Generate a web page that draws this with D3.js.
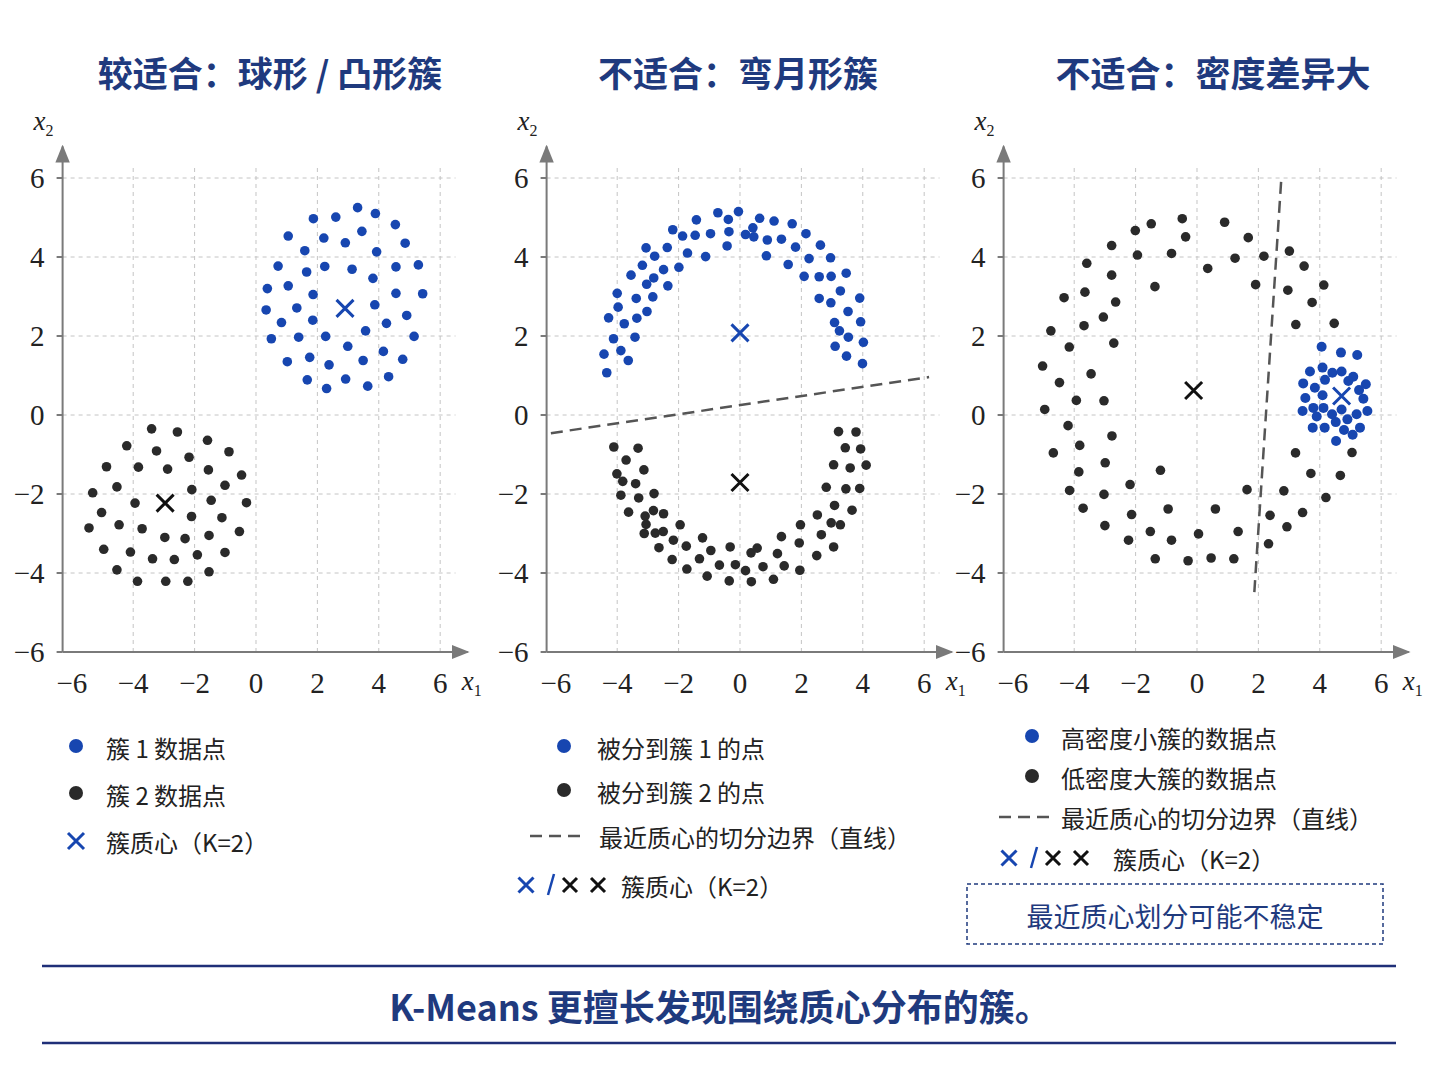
<!DOCTYPE html>
<html>
<head>
<meta charset="utf-8">
<script src="https://cdn.jsdelivr.net/npm/d3@7"></script>
<style>
  body { margin: 0; background: #fff; }
  svg { display: block; }
</style>
</head>
<body>
<svg width="1448" height="1086"></svg>
<script>
// ---- data ----
const titles = ["较适合：球形 / 凸形簇", "不适合：弯月形簇", "不适合：密度差异大"];
const xTicks = [-6, -4, -2, 0, 2, 4, 6];
const yTicks = [6, 4, 2, 0, -2, -4, -6];

// panel 1
const p1Blue = [[1.87,4.97],[2.6,5.01],[3.31,5.25],[3.89,5.1],[4.54,4.82],[1.05,4.53],[2.21,4.48],[2.91,4.36],[3.45,4.65],[4.86,4.35],[1.59,4.16],[3.93,4.13],[0.72,3.77],[1.65,3.62],[2.24,3.76],[3.13,3.69],[3.81,3.46],[4.56,3.75],[5.29,3.8],[0.37,3.2],[1.05,3.27],[1.86,3.05],[4.56,3.08],[5.43,3.07],[0.33,2.66],[1.33,2.71],[3.87,2.79],[0.83,2.34],[1.85,2.4],[4.91,2.52],[4.25,2.32],[0.5,1.93],[1.39,1.97],[2.27,1.99],[3.57,2.13],[5.15,1.99],[2.99,1.74],[4.15,1.61],[1.02,1.35],[1.75,1.46],[2.38,1.27],[3.49,1.38],[4.78,1.41],[1.67,0.89],[2.92,0.91],[4.32,0.97],[2.3,0.67],[3.64,0.73]];
const p1Black = [[-3.4,-0.35],[-2.56,-0.43],[-4.21,-0.78],[-3.24,-0.91],[-1.58,-0.64],[-0.88,-0.93],[-4.87,-1.31],[-3.83,-1.32],[-2.88,-1.37],[-2.18,-1.07],[-1.55,-1.39],[-0.47,-1.52],[-5.32,-1.97],[-4.53,-1.82],[-2.09,-1.89],[-1.01,-1.78],[-3.94,-2.23],[-1.46,-2.16],[-0.31,-2.22],[-5.03,-2.47],[-2.1,-2.57],[-1.11,-2.6],[-5.44,-2.86],[-4.46,-2.78],[-3.71,-2.88],[-2.97,-3.1],[-2.31,-3.13],[-1.53,-3.05],[-0.54,-2.95],[-4.96,-3.4],[-4.09,-3.47],[-3.37,-3.64],[-2.66,-3.66],[-1.91,-3.54],[-1.01,-3.48],[-4.53,-3.92],[-1.53,-3.97],[-3.86,-4.21],[-2.94,-4.21],[-2.22,-4.21]];
const p1Centroids = [[2.9,2.7,"blue"],[-2.96,-2.23,"black"]];

// panel 2
const p2Blue = [[-4.34,1.07],[-4.43,1.54],[-3.64,1.38],[-3.88,1.63],[-4.12,1.93],[-3.42,1.97],[-3.77,2.31],[-4.28,2.46],[-3.36,2.45],[-3.03,2.62],[-3.97,2.73],[-4,3.08],[-3.38,2.95],[-2.84,2.99],[-3.55,3.54],[-3.04,3.31],[-2.81,3.47],[-2.35,3.27],[-3.18,3.79],[-2.49,3.68],[-1.99,3.74],[-3.06,4.23],[-2.78,4.02],[-2.37,4.24],[-1.71,4.1],[-1.12,4.01],[-2.19,4.69],[-1.87,4.53],[-1.46,4.55],[-0.96,4.59],[-0.42,4.28],[-1.42,4.94],[-0.72,5.12],[-0.38,4.95],[-0.36,4.64],[-0.05,5.15],[0.18,4.57],[0.45,4.51],[0.42,4.74],[0.64,4.98],[1.11,4.91],[0.89,4.43],[1.35,4.45],[0.86,4.03],[1.7,4.84],[1.81,4.25],[1.57,3.81],[2.15,4.59],[2.25,3.96],[2.62,4.3],[2.09,3.51],[2.58,3.5],[2.95,3.98],[2.97,3.51],[3.46,3.59],[3.27,3.14],[2.58,2.95],[2.96,2.84],[3.9,2.96],[3.52,2.62],[3.08,2.34],[3.93,2.36],[3.24,2.13],[3.53,1.97],[4.02,1.84],[3.1,1.74],[3.47,1.49],[3.99,1.3]];
const p2Black = [[-4.11,-0.81],[-3.32,-0.84],[-3.71,-1.14],[-3.13,-1.39],[-4.01,-1.49],[-3.82,-1.68],[-3.4,-1.74],[-3.88,-2.03],[-3.3,-2.1],[-2.8,-1.99],[-3.63,-2.46],[-3.09,-2.56],[-2.49,-2.5],[-2.82,-2.42],[-3.06,-2.77],[-3.12,-3],[-2.5,-2.95],[-2.76,-2.99],[-1.95,-2.78],[-2.64,-3.36],[-2.17,-3.17],[-1.75,-3.32],[-1.22,-3.11],[-2.21,-3.66],[-1.73,-3.9],[-1.32,-3.64],[-0.95,-3.43],[-0.67,-3.8],[-0.32,-3.34],[-1.07,-4.08],[-0.15,-3.79],[-0.35,-4.2],[0.18,-3.94],[0.36,-3.49],[0.56,-3.37],[0.37,-4.22],[0.75,-3.84],[1.09,-4.16],[1.22,-3.51],[1.44,-3.82],[1.35,-3.08],[1.95,-3.93],[1.93,-3.24],[1.97,-2.78],[2.5,-3.56],[2.65,-3.03],[3.05,-3.34],[2.52,-2.53],[2.97,-2.73],[3.27,-2.78],[3.08,-2.29],[3.65,-2.41],[2.81,-1.83],[3.45,-1.87],[3.9,-1.86],[3.05,-1.26],[3.59,-1.34],[4.11,-1.27],[3.43,-0.83],[3.93,-0.86],[3.21,-0.42],[3.78,-0.43]];
const p2Centroids = [[0,2.08,"blue"],[0,-1.71,"black"]];
const p2Boundary = [[-6.16,-0.46],[6.16,0.96]];

// panel 3
const p3Black = [[-0.48,4.97],[0.9,4.88],[-1.49,4.84],[-2.01,4.67],[-0.37,4.51],[1.67,4.49],[-2.78,4.29],[-1.94,4.05],[-0.83,4.09],[1.24,3.97],[2.18,4.02],[3.01,4.15],[-3.59,3.84],[0.35,3.71],[3.49,3.77],[-2.78,3.54],[-1.37,3.25],[1.91,3.3],[2.96,3.16],[4.13,3.29],[-4.33,2.97],[-3.65,3.11],[-2.65,2.86],[3.75,2.85],[-3.05,2.48],[-3.68,2.26],[-4.76,2.13],[3.22,2.29],[4.47,2.32],[-4.16,1.72],[-2.71,1.82],[-5.03,1.24],[-3.45,1.04],[-4.48,0.82],[-3.93,0.37],[-3.03,0.36],[-4.96,0.14],[-4.2,-0.27],[-2.77,-0.53],[-3.82,-0.77],[-4.68,-0.96],[-2.99,-1.21],[-1.19,-1.4],[-3.85,-1.44],[-2.18,-1.76],[-4.15,-1.91],[-3.03,-2.01],[-3.71,-2.36],[-2.13,-2.52],[-0.94,-2.38],[0.6,-2.38],[1.63,-1.89],[2.83,-1.92],[-3,-2.8],[-1.52,-2.95],[-0.83,-3.17],[0.05,-3.01],[1.34,-2.95],[-2.23,-3.17],[-1.36,-3.64],[-0.29,-3.69],[0.46,-3.62],[1.2,-3.64],[2.33,-3.26],[2.38,-2.54],[2.93,-2.83],[3.44,-2.47],[4.2,-2.09],[3.71,-1.48],[4.67,-1.53],[3.21,-0.96],[5.05,-0.95]];
const p3Blue = [[4.06,1.73],[4.69,1.58],[5.22,1.52],[3.68,1.1],[4.09,1.2],[4.41,1.07],[4.71,1.1],[5.09,0.97],[3.46,0.8],[3.84,0.69],[4.17,0.89],[5.5,0.78],[5.28,0.63],[3.53,0.43],[4.09,0.5],[5.42,0.41],[3.44,0.1],[3.79,0.18],[4.12,0.18],[4.71,0.14],[5.2,0.02],[5.55,0.1],[3.77,-0.32],[4.16,-0.32],[4.52,-0.18],[4.9,-0.11],[4.79,-0.38],[5.31,-0.32],[5.07,-0.5],[4.53,-0.66],[3.9,-0.04],[4.4,0.02],[4.93,0.86]];
const p3Centroids = [[4.71,0.48,"blue"],[-0.11,0.62,"black"]];
const p3Boundary = [[2.74,5.9],[1.86,-4.58]];

const legend1 = ["簇 1 数据点", "簇 2 数据点", "簇质心（K=2）"];
const legend2 = ["被分到簇 1 的点", "被分到簇 2 的点", "最近质心的切分边界（直线）", "簇质心（K=2）"];
const legend3 = ["高密度小簇的数据点", "低密度大簇的数据点", "最近质心的切分边界（直线）", "簇质心（K=2）"];
const noteText = "最近质心划分可能不稳定";
const bottomText = "K-Means 更擅长发现围绕质心分布的簇。";

// ---- styles ----
const BLUE = "#1746b0", BLACK = "#2a2a2a", NAVY = "#1f3a7e", AXIS = "#7a7a7a", GRID = "#c4c4c4";
const serif = "'Liberation Serif','DejaVu Serif',serif";
const sans = "'Noto Sans CJK SC','Noto Sans',sans-serif";

const svg = d3.select("svg");
svg.append("defs").append("marker")
  .attr("id", "arr").attr("viewBox", "0 0 10 10").attr("refX", 9).attr("refY", 5)
  .attr("markerWidth", 9).attr("markerHeight", 9).attr("orient", "auto-start-reverse")
  .append("path").attr("d", "M0,1 L10,5 L0,9 Z").attr("fill", AXIS);

const panels = [
  { cx: 256, title: titles[0], blue: p1Blue, black: p1Black, cents: p1Centroids, line: null },
  { cx: 740, title: titles[1], blue: p2Blue, black: p2Black, cents: p2Centroids, line: p2Boundary },
  { cx: 1197, title: titles[2], blue: p3Blue, black: p3Black, cents: p3Centroids, line: p3Boundary }
];

const titleX = [270, 738, 1213];

panels.forEach((p, i) => {
  const x = d3.scaleLinear().domain([-6.3, 6.9]).range([p.cx - 193.4, p.cx + 211.8]);
  const y = d3.scaleLinear().domain([-6, 6]).range([652, 178]);
  const g = svg.append("g");

  g.append("text").attr("x", titleX[i]).attr("y", 87).attr("text-anchor", "middle")
    .attr("font-family", sans).attr("font-weight", "bold").attr("font-size", 35)
    .attr("fill", NAVY).text(p.title);

  // grid
  g.selectAll(".vg").data(xTicks.filter(d => d > -6)).enter().append("line")
    .attr("x1", d => x(d)).attr("x2", d => x(d)).attr("y1", y(-6)).attr("y2", y(6.3))
    .attr("stroke", GRID).attr("stroke-dasharray", "4,4");
  g.selectAll(".hg").data(yTicks.filter(d => d > -6)).enter().append("line")
    .attr("x1", x(-6.3)).attr("x2", x(6.5)).attr("y1", d => y(d)).attr("y2", d => y(d))
    .attr("stroke", GRID).attr("stroke-dasharray", "4,4");

  // axes
  g.append("line").attr("x1", x(-6.3)).attr("x2", x(6.9)).attr("y1", y(-6)).attr("y2", y(-6))
    .attr("stroke", AXIS).attr("stroke-width", 2).attr("marker-end", "url(#arr)");
  g.append("line").attr("x1", x(-6.3)).attr("x2", x(-6.3)).attr("y1", y(-6)).attr("y2", y(6.8))
    .attr("stroke", AXIS).attr("stroke-width", 2).attr("marker-end", "url(#arr)");
  g.selectAll(".yt").data(yTicks).enter().append("line")
    .attr("x1", x(-6.3) - 6).attr("x2", x(-6.3)).attr("y1", d => y(d)).attr("y2", d => y(d))
    .attr("stroke", AXIS).attr("stroke-width", 2);
  g.selectAll(".xl").data(xTicks).enter().append("text")
    .attr("x", d => x(d)).attr("y", 693).attr("text-anchor", "middle")
    .attr("font-family", serif).attr("font-size", 29).attr("fill", "#222")
    .text(d => d < 0 ? "−" + Math.abs(d) : d);
  g.selectAll(".yl").data(yTicks).enter().append("text")
    .attr("x", x(-6.3) - 18).attr("y", d => y(d) + 10).attr("text-anchor", "end")
    .attr("font-family", serif).attr("font-size", 29).attr("fill", "#222")
    .text(d => d < 0 ? "−" + Math.abs(d) : d);
  const xl = g.append("text").attr("x", x(6.9) - 6).attr("y", 690)
    .attr("font-family", serif).attr("font-style", "italic").attr("font-size", 27).attr("fill", "#222");
  xl.append("tspan").text("x");
  xl.append("tspan").attr("font-size", 16).attr("dy", 6).attr("font-style", "normal").text("1");
  const yl = g.append("text").attr("x", x(-6.3) - 29).attr("y", 130)
    .attr("font-family", serif).attr("font-style", "italic").attr("font-size", 27).attr("fill", "#222");
  yl.append("tspan").text("x");
  yl.append("tspan").attr("font-size", 16).attr("dy", 6).attr("font-style", "normal").text("2");

  if (p.line) {
    g.append("line").attr("x1", x(p.line[0][0])).attr("y1", y(p.line[0][1]))
      .attr("x2", x(p.line[1][0])).attr("y2", y(p.line[1][1]))
      .attr("stroke", "#555").attr("stroke-width", 2.5).attr("stroke-dasharray", "12,7");
  }

  const r = i === 2 ? 5 : 4.8;
  g.selectAll(".bk").data(p.black).enter().append("circle")
    .attr("cx", d => x(d[0])).attr("cy", d => y(d[1])).attr("r", 4.8).attr("fill", BLACK);
  g.selectAll(".bl").data(p.blue).enter().append("circle")
    .attr("cx", d => x(d[0])).attr("cy", d => y(d[1])).attr("r", r).attr("fill", BLUE);

  p.cents.forEach(c => {
    const px = x(c[0]), py = y(c[1]), s = 8.5;
    g.append("path").attr("d", `M${px - s},${py - s}L${px + s},${py + s}M${px - s},${py + s}L${px + s},${py - s}`)
      .attr("stroke", c[2] === "blue" ? BLUE : "#111").attr("stroke-width", 3);
  });
});

// ---- legends ----
function cross(g, cx, cy, col, s) {
  g.append("path").attr("d", `M${cx - s},${cy - s}L${cx + s},${cy + s}M${cx - s},${cy + s}L${cx + s},${cy - s}`)
    .attr("stroke", col).attr("stroke-width", 3);
}
function label(x, y, t, size) {
  svg.append("text").attr("x", x).attr("y", y).attr("font-family", sans)
    .attr("font-size", size || 24).attr("fill", "#222").attr("dominant-baseline", "central").text(t);
}
function centLegend(x0, y0, textX) {
  cross(svg, x0 + 8, y0, BLUE, 7.5);
  svg.append("line").attr("x1", x0 + 30).attr("y1", y0 + 10).attr("x2", x0 + 36).attr("y2", y0 - 11)
    .attr("stroke", BLUE).attr("stroke-width", 2.5);
  cross(svg, x0 + 52, y0, "#111", 7);
  cross(svg, x0 + 80, y0, "#111", 7);
  label(textX, y0, legend2[3]);
}

// panel 1
svg.append("circle").attr("cx", 76).attr("cy", 746).attr("r", 7).attr("fill", BLUE);
svg.append("circle").attr("cx", 76).attr("cy", 793).attr("r", 7).attr("fill", BLACK);
cross(svg, 76, 841, BLUE, 8);
label(106, 747, legend1[0]); label(106, 794, legend1[1]); label(106, 841, legend1[2]);

// panel 2
svg.append("circle").attr("cx", 564).attr("cy", 746).attr("r", 7).attr("fill", BLUE);
svg.append("circle").attr("cx", 564).attr("cy", 790).attr("r", 7).attr("fill", BLACK);
svg.append("line").attr("x1", 530).attr("x2", 584).attr("y1", 836).attr("y2", 836)
  .attr("stroke", "#555").attr("stroke-width", 2.5).attr("stroke-dasharray", "12,7");
label(597, 747, legend2[0]); label(597, 791, legend2[1]); label(599, 836, legend2[2]);
centLegend(518, 885, 621);

// panel 3
svg.append("circle").attr("cx", 1032).attr("cy", 736).attr("r", 7).attr("fill", BLUE);
svg.append("circle").attr("cx", 1032).attr("cy", 776).attr("r", 7).attr("fill", BLACK);
svg.append("line").attr("x1", 999).attr("x2", 1050).attr("y1", 817).attr("y2", 817)
  .attr("stroke", "#555").attr("stroke-width", 2.5).attr("stroke-dasharray", "12,7");
label(1061, 737, legend3[0]); label(1061, 777, legend3[1]); label(1061, 817, legend3[2]);
centLegend(1001, 858, 1113);

svg.append("rect").attr("x", 967).attr("y", 884).attr("width", 416).attr("height", 60)
  .attr("fill", "none").attr("stroke", NAVY).attr("stroke-width", 1.5).attr("stroke-dasharray", "4,3");
svg.append("text").attr("x", 1175).attr("y", 915).attr("text-anchor", "middle")
  .attr("dominant-baseline", "central").attr("font-family", sans).attr("font-size", 27)
  .attr("fill", NAVY).text(noteText);

// ---- bottom banner ----
[966, 1043].forEach(yy => svg.append("line").attr("x1", 42).attr("x2", 1396)
  .attr("y1", yy).attr("y2", yy).attr("stroke", "#1f2f78").attr("stroke-width", 2.5));
svg.append("text").attr("x", 720).attr("y", 1005).attr("text-anchor", "middle")
  .attr("dominant-baseline", "central").attr("font-family", sans).attr("font-weight", "bold")
  .attr("font-size", 36).attr("fill", NAVY).text(bottomText);
</script>
</body>
</html>
